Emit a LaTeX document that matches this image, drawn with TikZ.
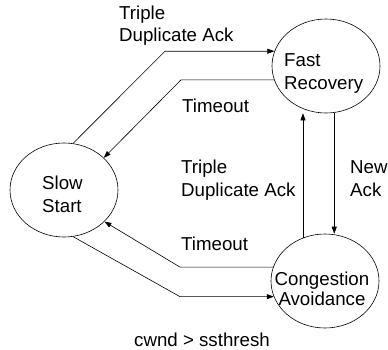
\documentclass[tikz,border=0pt]{standalone}
\usepackage{fontspec}
\setmainfont{Liberation Sans}
\usetikzlibrary{arrows.meta,shapes.geometric}
\begin{document}
\begin{tikzpicture}[x=1pt,y=-1pt,
  state/.style={draw,ellipse,minimum width=108pt,minimum height=94pt,inner sep=0pt,line width=0.6pt},
  lbl/.style={inner sep=0pt,font=\fontsize{18.7pt}{22pt}\selectfont},
  conn/.style={line width=0.6pt,-{Triangle[length=7pt,width=5pt]}}]
\useasboundingbox (0,0) rectangle (388,349);
\node[state] (SS) at (64,190) {};
\node[state] (FR) at (326,66) {};
\node[state] (CA) at (325,281) {};
% state texts
\node[lbl,anchor=base west] (t1) at (42,189) {Slow};
\node[lbl,anchor=base west] (t2) at (42,212) {Start};
\node[lbl,anchor=base west] (t3) at (284,66) {Fast};
\node[lbl,anchor=base west] (t4) at (284,89) {Recovery};
\node[lbl,anchor=base] (t5) at (322,285) {Congestion};
\node[lbl,anchor=base] (t6) at (322,305) {Avoidance};
% edge labels
\node[lbl,anchor=base west] (l1) at (119,19.5) {Triple};
\node[lbl,anchor=base west] (l2) at (119,41.5) {Duplicate Ack};
\node[lbl,anchor=base west] (l3) at (182,112.7) {Timeout};
\node[lbl,anchor=base west] (l4) at (181,173) {Triple};
\node[lbl,anchor=base west] (l5) at (181,196) {Duplicate Ack};
\node[lbl,anchor=base west] (l6) at (350,173) {New};
\node[lbl,anchor=base west] (l7) at (350,196) {Ack};
\node[lbl,anchor=base west] (l8) at (181,250) {Timeout};
\node[lbl,anchor=base west] (l9) at (134,346.5) {cwnd > ssthresh};
% bend coordinates
\coordinate (b1) at (165,51);
\coordinate (b2) at (181,81);
\coordinate (b3) at (180,267);
\coordinate (b4) at (180,297);
% connectors
\draw[conn] (SS.79) -- (b1 |- FR.164) -- (FR.164);
\draw[conn] (FR.195) -- (b2 |- FR.195) -- (SS.39);
\draw[conn] (CA.165) -- (b3 |- CA.165) -- (SS.322);
\draw[conn] (SS.281) -- (b4 |- CA.197) -- (CA.197);
\draw[conn] (CA.117) -- (CA.117 |- FR.south);
\draw[conn] (FR.280) -- (FR.280 |- CA.north);
\end{tikzpicture}
\end{document}
